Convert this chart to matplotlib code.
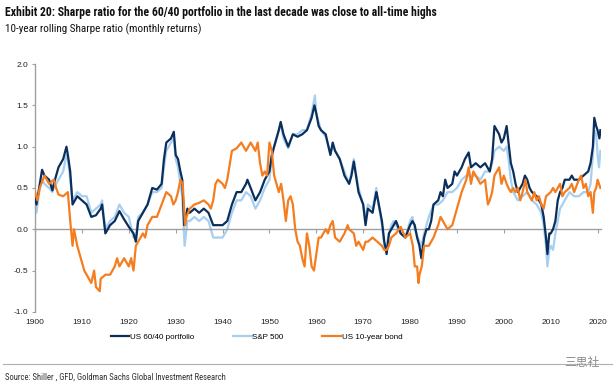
import matplotlib.pyplot as plt

# --- data (year, 10y rolling Sharpe) ---
pf_years = [1900, 1900.3, 1901, 1901.5, 1902, 1903, 1903.7, 1904, 1905, 1906, 1906.7, 1907, 1907.5, 1908, 1909,
            1910, 1911, 1912, 1913, 1914, 1914.3, 1915, 1916, 1917, 1918, 1919, 1920, 1921, 1921.5, 1922, 1923,
            1924, 1925, 1926, 1927, 1927.5, 1928, 1929, 1929.6, 1930, 1930.5, 1931, 1931.4, 1931.8, 1932, 1932.5,
            1933, 1934, 1935, 1936, 1937, 1938, 1939, 1940, 1941, 1942, 1943, 1944, 1945, 1945.3, 1946, 1947,
            1948, 1949, 1950, 1950.5, 1951, 1952, 1952.4, 1953, 1954, 1955, 1956, 1957, 1958, 1959, 1959.6, 1960,
            1960.5, 1961, 1962, 1963, 1963.5, 1964, 1965, 1966, 1967, 1967.5, 1968, 1969, 1970, 1970.5, 1971, 1972,
            1972.8, 1973, 1974, 1974.5, 1975, 1975.5, 1976, 1976.5, 1977, 1978, 1979, 1980, 1980.5, 1981, 1981.5,
            1982, 1982.4, 1983, 1983.5, 1984, 1984.5, 1985, 1986, 1986.5, 1987, 1987.5, 1988, 1989, 1989.5, 1990,
            1991, 1991.7, 1992.5, 1993, 1994, 1995, 1996, 1996.5, 1997, 1997.5, 1998, 1998.5, 1999, 1999.5, 2000,
            2000.6, 2001, 2001.5, 2002, 2002.5, 2003, 2004, 2004.5, 2005, 2005.5, 2006, 2007, 2008, 2008.5, 2009,
            2009.3, 2009.7, 2010, 2010.5, 2011, 2011.5, 2012, 2012.5, 2013, 2014, 2014.5, 2015, 2016, 2017, 2018,
            2018.5, 2019, 2019.3, 2019.7, 2020, 2020.4, 2020.6]
pf_vals = [0.38, 0.3, 0.55, 0.72, 0.65, 0.6, 0.47, 0.55, 0.75, 0.85, 1.0, 0.9, 0.7, 0.3, 0.4,
           0.35, 0.3, 0.15, 0.17, 0.25, 0.3, -0.05, 0.05, 0.1, 0.22, 0.12, 0.03, -0.05, -0.15, 0.1, 0.2,
           0.3, 0.5, 0.48, 0.55, 0.85, 1.05, 1.1, 1.18, 0.9, 0.85, 0.7, 0.6, 0.05, 0.1, 0.25,
           0.2, 0.25, 0.2, 0.25, 0.2, 0.05, 0.05, 0.05, 0.1, 0.3, 0.45, 0.45, 0.55, 0.6, 0.5, 0.35,
           0.45, 0.6, 0.7, 0.9, 1.0, 1.2, 1.3, 1.15, 1.0, 1.15, 1.12, 1.15, 1.2, 1.35, 1.5, 1.4,
           1.25, 1.2, 1.15, 0.9, 1.05, 0.95, 0.85, 0.65, 0.55, 0.65, 0.82, 0.45, 0.3, 0.05, 0.25, 0.2,
           0.45, 0.4, 0.1, -0.15, -0.3, -0.05, 0.0, 0.05, 0.1, -0.05, -0.1, 0.05, 0.1, 0.05, -0.1,
           -0.2, -0.35, -0.1, 0.0, 0.0, 0.1, 0.3, 0.35, 0.45, 0.4, 0.6, 0.5, 0.55, 0.7, 0.65,
           0.75, 0.85, 0.93, 0.75, 0.8, 0.75, 0.8, 0.75, 0.7, 0.85, 1.25, 1.2, 1.15, 1.05, 1.1,
           1.25, 1.05, 0.8, 0.7, 0.55, 0.45, 0.55, 0.65, 0.6, 0.5, 0.45, 0.4, 0.3, 0.15, -0.1,
           -0.3, -0.05, -0.05, 0.0, 0.1, 0.35, 0.45, 0.5, 0.6, 0.6, 0.65, 0.6, 0.6, 0.65, 0.7,
           0.8, 1.0, 1.35, 1.25, 1.2, 1.1, 1.2]

spx_years = [1900, 1900.3, 1901, 1901.5, 1902, 1903, 1903.7, 1904, 1905, 1906, 1906.7, 1907, 1907.5, 1908, 1909,
             1910, 1911, 1912, 1913, 1914, 1914.3, 1915, 1916, 1917, 1918, 1919, 1920, 1921, 1921.5, 1922, 1923,
             1924, 1925, 1926, 1927, 1927.5, 1928, 1929, 1929.6, 1930, 1930.5, 1931, 1931.4, 1931.9, 1932.5, 1933,
             1934, 1935, 1936, 1937, 1938, 1939, 1940, 1941, 1942, 1943, 1944, 1945, 1946, 1947, 1948, 1949, 1950,
             1950.5, 1951, 1952, 1952.4, 1953, 1954, 1955, 1956, 1957, 1958, 1959, 1959.7, 1960, 1960.5, 1961, 1962,
             1963, 1963.5, 1964, 1965, 1966, 1967, 1967.5, 1968, 1969, 1970, 1970.5, 1971, 1972, 1972.8, 1973, 1974,
             1974.5, 1975, 1975.5, 1976, 1976.5, 1977, 1978, 1979, 1980, 1980.5, 1981, 1982, 1982.4, 1983, 1984,
             1985, 1986, 1987, 1988, 1989, 1990, 1991, 1992, 1993, 1994, 1995, 1996, 1997, 1997.5, 1998, 1999, 2000,
             2000.6, 2001, 2001.5, 2002, 2002.5, 2003, 2004, 2005, 2006, 2007, 2008, 2008.5, 2009, 2009.3, 2009.7,
             2010, 2010.5, 2011, 2011.5, 2012, 2013, 2014, 2015, 2016, 2017, 2018, 2018.5, 2019, 2019.3, 2019.7,
             2020, 2020.3, 2020.6]
spx_vals = [0.35, 0.2, 0.5, 0.6, 0.55, 0.5, 0.45, 0.5, 0.6, 0.7, 0.9, 0.85, 0.6, 0.35, 0.45,
            0.4, 0.4, 0.2, 0.25, 0.3, 0.35, 0.0, 0.1, 0.15, 0.3, 0.2, 0.15, -0.1, -0.1, 0.15, 0.2,
            0.3, 0.45, 0.45, 0.5, 0.75, 0.95, 1.05, 1.1, 0.85, 0.75, 0.55, 0.4, -0.2, 0.1, 0.1,
            0.15, 0.1, 0.15, 0.1, -0.1, -0.1, -0.1, 0.0, 0.2, 0.35, 0.35, 0.45, 0.4, 0.25, 0.35, 0.5, 0.6,
            0.85, 1.0, 1.2, 1.28, 1.1, 0.98, 1.15, 1.15, 1.2, 1.2, 1.4, 1.62, 1.4, 1.3, 1.2, 1.12,
            0.92, 1.0, 0.95, 0.85, 0.7, 0.55, 0.7, 0.85, 0.5, 0.3, 0.12, 0.3, 0.25, 0.5, 0.4, 0.05,
            -0.2, -0.2, -0.05, 0.05, 0.1, 0.05, -0.05, -0.1, 0.1, 0.15, 0.0, -0.15, -0.2, -0.05, 0.15,
            0.3, 0.3, 0.35, 0.45, 0.45, 0.5, 0.6, 0.65, 0.65, 0.65, 0.6, 0.7, 0.7, 0.8, 0.95, 1.0, 0.95,
            1.0, 0.85, 0.6, 0.45, 0.4, 0.35, 0.4, 0.45, 0.35, 0.3, 0.2, 0.05, -0.2, -0.45, -0.25,
            -0.2, -0.25, -0.05, 0.1, 0.25, 0.35, 0.45, 0.4, 0.4, 0.45, 0.45, 0.55, 0.9, 1.2, 1.15,
            0.9, 0.75, 0.95]

bond_years = [1900, 1900.5, 1901, 1902, 1903, 1904, 1904.5, 1905, 1906, 1907, 1907.5, 1908, 1908.3, 1909, 1910,
              1910.5, 1911, 1912, 1912.6, 1913, 1913.8, 1914, 1915, 1916, 1917, 1917.5, 1918, 1919, 1920, 1920.5,
              1921, 1921.5, 1922, 1923, 1923.5, 1924, 1925, 1926, 1927, 1928, 1929, 1929.5, 1930, 1930.5, 1931,
              1931.5, 1932, 1932.3, 1933, 1934, 1935, 1936, 1937, 1937.5, 1938, 1938.5, 1939, 1940, 1940.5, 1941,
              1942, 1943, 1944, 1945, 1946, 1947, 1947.5, 1948, 1948.5, 1949, 1949.5, 1950, 1950.5, 1951, 1951.5,
              1952, 1952.5, 1953, 1953.5, 1954, 1954.5, 1955, 1955.5, 1956, 1956.5, 1957, 1957.5, 1958, 1958.5,
              1959, 1959.5, 1960, 1960.5, 1961, 1962, 1962.5, 1963, 1963.5, 1964, 1965, 1966, 1966.7, 1967, 1968,
              1968.5, 1969, 1970, 1970.5, 1971, 1972, 1973, 1974, 1974.5, 1975, 1975.5, 1976, 1977, 1978, 1979,
              1980, 1980.6, 1981, 1981.5, 1981.8, 1982, 1982.5, 1983, 1984, 1985, 1986, 1986.5, 1987, 1988, 1989,
              1990, 1991, 1992, 1992.5, 1993, 1993.5, 1994, 1995, 1996, 1996.6, 1997, 1997.5, 1998, 1999, 1999.5,
              2000, 2000.6, 2001, 2001.5, 2002, 2002.5, 2003, 2003.5, 2004, 2004.6, 2005, 2006, 2006.5, 2007,
              2007.5, 2008, 2008.5, 2009, 2010, 2010.5, 2011, 2011.5, 2012, 2012.5, 2013, 2014, 2014.5, 2015, 2016,
              2016.5, 2017, 2017.5, 2018, 2018.5, 2019, 2019.3, 2019.7, 2020, 2020.3, 2020.6]
bond_vals = [0.45, 0.35, 0.5, 0.65, 0.55, 0.6, 0.5, 0.42, 0.4, 0.45, 0.1, -0.2, 0.0, -0.2, -0.4,
             -0.5, -0.55, -0.65, -0.5, -0.7, -0.75, -0.6, -0.55, -0.55, -0.45, -0.35, -0.45, -0.35, -0.45, -0.35,
             -0.5, -0.2, -0.15, -0.05, -0.1, 0.05, 0.15, 0.15, 0.3, 0.45, 0.4, 0.3, 0.35, 0.45, 0.6,
             0.55, 0.05, 0.15, 0.25, 0.3, 0.32, 0.35, 0.3, 0.25, 0.35, 0.55, 0.6, 0.55, 0.5, 0.6,
             0.95, 0.98, 1.05, 0.95, 1.05, 0.95, 1.05, 0.8, 0.65, 0.7, 0.65, 1.05, 0.95, 0.65, 0.55,
             0.45, 0.55, 0.35, 0.1, 0.35, 0.4, 0.3, 0.0, -0.15, -0.2, -0.35, -0.45, -0.05, -0.2,
             -0.45, -0.5, -0.3, -0.1, -0.1, 0.0, -0.05, 0.05, 0.1, -0.1, -0.15, -0.05, 0.05, 0.0, -0.05,
             -0.2, -0.15, -0.25, -0.15, -0.15, -0.1, -0.15, -0.2, -0.25, -0.25, -0.2, -0.1, -0.05, 0.03, -0.1,
             -0.05, -0.2, -0.45, -0.45, -0.65, -0.55, -0.45, -0.2, -0.2, -0.1, 0.05, 0.15, 0.1, 0.0, 0.05,
             0.25, 0.45, 0.6, 0.75, 0.55, 0.7, 0.65, 0.55, 0.6, 0.3, 0.35, 0.45, 0.65, 0.75, 0.55,
             0.65, 0.55, 0.5, 0.45, 0.5, 0.45, 0.5, 0.35, 0.45, 0.6, 0.45, 0.35, 0.45, 0.35,
             0.4, 0.3, 0.25, 0.4, 0.45, 0.5, 0.45, 0.5, 0.55, 0.4, 0.45, 0.5, 0.55, 0.45, 0.6,
             0.65, 0.5, 0.55, 0.4, 0.45, 0.2, 0.45, 0.5, 0.6, 0.55, 0.5]

series_labels = ["US 60/40 portfolio", "S&P 500", "US 10-year bond"]
x_ticks = list(range(1900, 2021, 10))
y_ticks = [-1.0, -0.5, 0.0, 0.5, 1.0, 1.5, 2.0]

NAVY = "#0b2f5c"
LIGHT = "#a6cff0"
ORANGE = "#f47d20"
GREY = "#a0a0a0"

narrow = ["Roboto Condensed", "Archivo Narrow", "DejaVu Sans"]
plt.rcParams["font.family"] = ["Liberation Sans", "DejaVu Sans"]

fig = plt.figure(figsize=(6.15, 3.86), dpi=100)
ax = fig.add_axes([0.057, 0.192, 0.920, 0.642])

ax.plot(pf_years, pf_vals, color=NAVY, lw=1.6, label=series_labels[0], zorder=3)
ax.plot(spx_years, spx_vals, color=LIGHT, lw=1.6, label=series_labels[1], zorder=2.5)
ax.plot(bond_years, bond_vals, color=ORANGE, lw=1.6, label=series_labels[2], zorder=4)

ax.set_xlim(1900, 2020.7)
ax.set_ylim(-1.0, 2.0)
ax.set_yticks(y_ticks)
ax.set_yticklabels([f"{v:.1f}" for v in y_ticks])

for s in ["top", "right"]:
    ax.spines[s].set_visible(False)
ax.spines["left"].set_color(GREY)
ax.spines["left"].set_linewidth(1.0)
# x axis line sits on zero, with small decade ticks hanging off it
ax.spines["bottom"].set_position(("data", 0))
ax.spines["bottom"].set_color(GREY)
ax.spines["bottom"].set_linewidth(1.0)
ax.set_xticks(x_ticks)
ax.tick_params(axis="x", length=3, color=GREY, labelbottom=False)
ax.tick_params(axis="y", length=2.5, color=GREY, labelsize=6, labelcolor="#222222", pad=2.5)

sec = ax.secondary_xaxis(0.0)
sec.set_xticks(x_ticks)
sec.spines["bottom"].set_visible(False)
sec.tick_params(length=0, labelsize=6, labelcolor="#222222", pad=5)

fig.legend(loc="center", bbox_to_anchor=(0.417, 0.127), ncol=3, frameon=False, fontsize=5.8,
           handlelength=2.3, handletextpad=0.1, columnspacing=4.8, borderaxespad=0)

fig.text(0.008, 0.968, "Exhibit 20: Sharpe ratio for the 60/40 portfolio in the last decade was close to all-time highs",
         family=narrow, fontsize=8.5, fontweight="bold", color="#111111", va="center")
fig.text(0.008, 0.925, "10-year rolling Sharpe ratio (monthly returns)",
         family=narrow, fontsize=8.0, color="#111111", va="center")

fig.add_artist(plt.Line2D([0.005, 0.995], [0.057, 0.057], transform=fig.transFigure, color="#b0b0b0", lw=0.8))
fig.text(0.008, 0.023, "Source: Shiller , GFD, Goldman Sachs Global Investment Research",
         family=narrow, fontsize=6.2, color="#333333", va="center")
fig.text(0.975, 0.062, "三思社", family=["Noto Sans CJK SC", "DejaVu Sans"], fontsize=8.5,
         color="#8a8a8a", ha="right", va="center")

fig.savefig("out.png", dpi=100)
